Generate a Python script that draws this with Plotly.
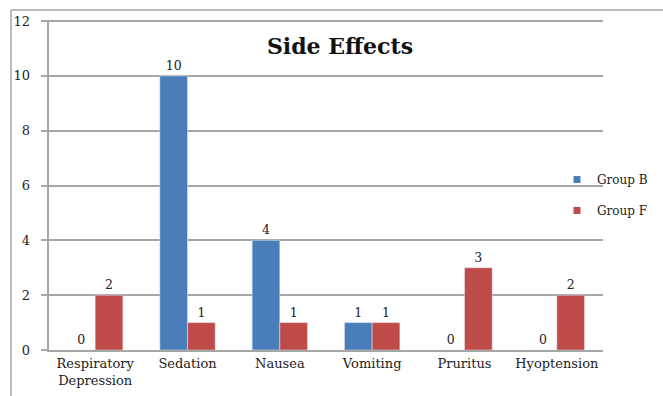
import plotly.graph_objects as go

categories = ["Respiratory<br>Depression", "Sedation", "Nausea", "Vomiting", "Pruritus", "Hyoptension"]
group_b = [0, 10, 4, 1, 0, 0]
group_f = [2, 1, 1, 1, 3, 2]
y_ticks = [0, 2, 4, 6, 8, 10, 12]

FONT = "DejaVu Serif"
BLUE, RED = "#4a7ebb", "#be4b48"
L, R, T, B = 49, 60, 20, 46
W, H = 663, 396
pw, ph = W - L - R, H - T - B

fig = go.Figure()
fig.add_trace(go.Bar(name="Group B", x=categories, y=group_b, marker_color=BLUE,
                     text=group_b, textposition="outside", cliponaxis=False, showlegend=False,
                     textfont=dict(family=FONT, size=12.5, color="#222")))
fig.add_trace(go.Bar(name="Group F", x=categories, y=group_f, marker_color=RED,
                     text=group_f, textposition="outside", cliponaxis=False, showlegend=False,
                     textfont=dict(family=FONT, size=12.5, color="#222")))
# legend entries (small square keys)
for nm, col in [("Group B", BLUE), ("Group F", RED)]:
    fig.add_trace(go.Scatter(name=nm, x=[None], y=[None], mode="markers", legendgroup=nm,
                             marker=dict(symbol="square", size=7, color=col)))

fig.update_layout(
    width=W, height=H,
    margin=dict(l=L, r=R, t=T, b=B, autoexpand=False),
    paper_bgcolor="white", plot_bgcolor="white",
    barmode="group", bargap=0.4, bargroupgap=0,
    font=dict(family=FONT, size=13, color="#222"),
    title=dict(text="<b>Side Effects</b>", x=(340 - L) / pw, xref="paper", xanchor="center",
               y=(H - 46) / H, yanchor="middle", font=dict(family=FONT, size=22, color="#111")),
    legend=dict(x=(557 - L) / pw, xanchor="left", y=(350 - 195) / ph, yanchor="middle",
                font=dict(family=FONT, size=12), itemwidth=30, tracegroupgap=12,
                bgcolor="rgba(0,0,0,0)"),
    showlegend=True,
)
fig.update_yaxes(range=[0, 12.04], tickvals=y_ticks,
                 ticktext=[f"{v}\u00a0\u00a0" for v in y_ticks],
                 showgrid=True, gridcolor="#a6a6a6", gridwidth=2,
                 showline=True, linecolor="#a6a6a6", linewidth=2, ticks="outside", ticklen=6,
                 tickcolor="#a6a6a6", tickwidth=2, zeroline=False, tickfont=dict(size=13))
fig.update_xaxes(showline=True, linecolor="#a6a6a6", linewidth=2, ticks="", tickfont=dict(size=13))

# outer chart border (top and left)
fig.add_shape(type="line", xref="paper", yref="paper",
              x0=(11 - L) / pw, x1=(W - L) / pw, y0=1 + (T - 10) / ph, y1=1 + (T - 10) / ph,
              line=dict(color="#bbbbbb", width=2))
fig.add_shape(type="line", xref="paper", yref="paper",
              x0=(11 - L) / pw, x1=(11 - L) / pw, y0=1 + (T - 10) / ph, y1=-B / ph,
              line=dict(color="#bbbbbb", width=2))

fig.write_html("out.html", config={"displayModeBar": False},
               post_script="document.body.style.margin='0';document.body.style.overflow='hidden';")
